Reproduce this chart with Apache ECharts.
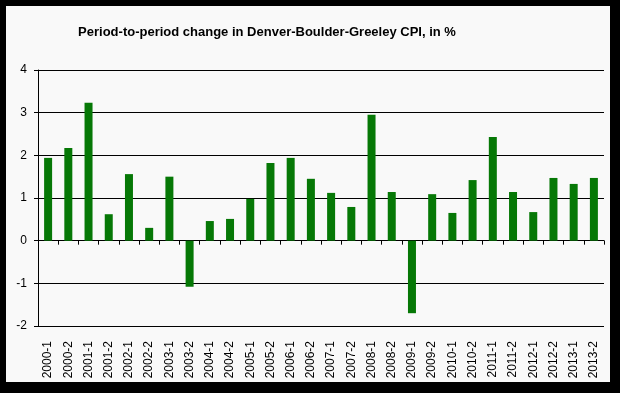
<!DOCTYPE html>
<html>
<head>
<meta charset="utf-8">
<script src="https://cdn.jsdelivr.net/npm/echarts@6/dist/echarts.min.js"></script>
<style>
html,body{margin:0;padding:0;background:#000;}
#frame{position:absolute;left:6px;top:6px;width:604px;height:376px;background:#f9f9f9;}
#chart{position:absolute;left:0;top:0;width:620px;height:393px;}
</style>
</head>
<body>
<div id="frame"></div>
<div id="chart"></div>
<script>
var categories = ["2000-1","2000-2","2001-1","2001-2","2002-1","2002-2","2003-1","2003-2","2004-1","2004-2","2005-1","2005-2","2006-1","2006-2","2007-1","2007-2","2008-1","2008-2","2009-1","2009-2","2010-1","2010-2","2011-1","2011-2","2012-1","2012-2","2013-1","2013-2"];
var cpiChange = [1.94,2.17,3.23,0.62,1.56,0.30,1.50,-1.08,0.46,0.51,0.98,1.82,1.94,1.45,1.12,0.79,2.95,1.14,-1.70,1.09,0.65,1.42,2.43,1.14,0.67,1.47,1.33,1.47];
var yTicks = {min:-2, max:4, interval:1};

var chart = echarts.init(document.getElementById('chart'), null, {renderer:'canvas'});
chart.setOption({
  backgroundColor: 'transparent',
  animation: false,
  title: {
    text: 'Period-to-period change in Denver-Boulder-Greeley CPI, in %',
    left: 262, top: 21, textAlign: 'center',
    textStyle: {fontFamily:'Liberation Sans, Arial, sans-serif', fontSize:13, fontWeight:'bold', color:'#000'}
  },
  grid: {left:38, right:16, top:70, bottom:67, containLabel:false},
  xAxis: [{
    type:'category', data:categories, position:'bottom',
    axisLine:{show:false, onZero:false}, axisTick:{show:false},
    axisLabel:{rotate:90, fontFamily:'Liberation Sans, Arial, sans-serif', fontSize:12, color:'#000', margin:15, interval:0}
  },{
    type:'category', data:categories, position:'top',
    axisLine:{show:true, onZero:true, lineStyle:{color:'#000', width:1}},
    axisTick:{show:true, inside:true, length:4, interval:0, lineStyle:{color:'#000'}},
    axisLabel:{show:false}
  }],
  yAxis: {
    type:'value', min:yTicks.min, max:yTicks.max, interval:yTicks.interval,
    axisLine:{show:true, lineStyle:{color:'#000'}},
    axisTick:{show:true, length:4, lineStyle:{color:'#000'}},
    axisLabel:{fontFamily:'Liberation Sans, Arial, sans-serif', fontSize:12, color:'#000', margin:11},
    splitLine:{show:true, lineStyle:{color:'#000', width:1}}
  },
  series: [{
    type:'bar', data:cpiChange, xAxisIndex:0, barWidth:8,
    itemStyle:{color:'#067806'}
  }]
});
</script>
</body>
</html>
